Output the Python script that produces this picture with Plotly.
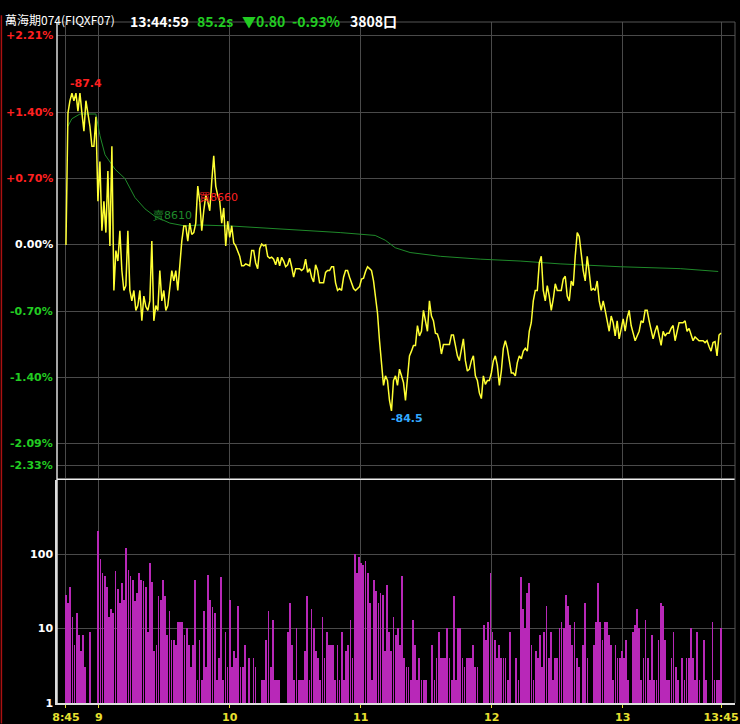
import plotly.graph_objects as go
import numpy as np

price_pct = [0,1.39,1.52,1.60,1.52,1.60,1.41,1.60,1.39,1.20,1.52,1.39,1.25,1.04,1.04,1.35,0.46,0.88,0.15,0.46,
0.13,0.78,-0.01,1.04,-0.48,-0.06,-0.17,0.15,-0.27,-0.48,-0.43,0.15,-0.48,-0.59,-0.48,-0.69,-0.64,-0.48,-0.80,-0.54,
-0.65,-0.69,-0.59,0.04,-0.80,-0.64,-0.69,-0.27,-0.59,-0.48,-0.69,-0.64,-0.48,-0.27,-0.38,-0.27,-0.48,-0.22,0.04,0.20,
0.20,0.04,0.23,0.11,0.13,0.23,0.62,0.46,0.15,0.36,0.52,0.46,0.36,0.67,0.94,0.62,0.52,0.46,0.23,0.39,
-0.01,0.25,0.08,0.20,0.02,-0.01,-0.06,-0.12,-0.22,-0.22,-0.20,-0.21,-0.22,-0.06,-0.06,-0.19,-0.25,-0.04,0.01,-0.01,
0.0,-0.12,-0.14,-0.13,-0.15,-0.21,-0.13,-0.22,-0.13,-0.17,-0.23,-0.21,-0.14,-0.23,-0.34,-0.25,-0.25,-0.25,-0.27,-0.25,
-0.15,-0.29,-0.25,-0.34,-0.39,-0.21,-0.27,-0.40,-0.40,-0.40,-0.29,-0.27,-0.27,-0.23,-0.23,-0.40,-0.48,-0.46,-0.48,-0.34,
-0.27,-0.27,-0.34,-0.39,-0.46,-0.48,-0.46,-0.44,-0.36,-0.35,-0.28,-0.23,-0.25,-0.27,-0.38,-0.57,-0.72,-1.01,-1.22,-1.48,
-1.38,-1.43,-1.64,-1.75,-1.43,-1.38,-1.48,-1.31,-1.38,-1.45,-1.64,-1.43,-1.17,-1.12,-1.06,-1.06,-0.85,-0.96,-0.91,-0.69,
-0.80,-0.91,-0.59,-0.75,-0.80,-0.93,-0.94,-1.01,-1.15,-1.05,-1.05,-1.05,-1.05,-0.95,-0.95,-1.06,-1.17,-1.22,-1.12,-0.99,
-1.22,-1.33,-1.31,-1.22,-1.17,-1.38,-1.43,-1.56,-1.62,-1.38,-1.47,-1.43,-1.43,-1.35,-1.22,-1.17,-1.27,-1.48,-1.33,-1.09,
-1.01,-1.09,-1.22,-1.35,-1.35,-1.38,-1.24,-1.17,-1.20,-1.12,-1.09,-1.12,-0.91,-0.82,-0.59,-0.48,-0.48,-0.19,-0.12,-0.48,
-0.59,-0.43,-0.54,-0.69,-0.57,-0.41,-0.48,-0.48,-0.48,-0.36,-0.33,-0.54,-0.59,-0.38,-0.43,-0.12,0.13,0.09,-0.12,-0.27,
-0.38,-0.12,-0.29,-0.48,-0.46,-0.48,-0.38,-0.59,-0.69,-0.59,-0.69,-0.82,-0.91,-0.75,-0.82,-0.96,-0.80,-0.99,-0.88,-0.78,
-0.91,-0.77,-0.69,-0.85,-0.93,-1.01,-0.96,-0.91,-0.80,-0.82,-0.69,-0.69,-0.80,-0.88,-0.99,-0.91,-0.85,-0.96,-1.06,-0.91,
-0.96,-0.93,-0.93,-0.88,-0.85,-1.01,-0.91,-0.82,-0.82,-0.82,-0.80,-0.91,-0.88,-0.96,-1.01,-0.97,-0.99,-1.01,-1.01,-1.01,
-1.03,-1.01,-1.07,-1.12,-1.03,-1.02,-1.17,-0.95,-0.93]

avg_min = [0.9,2.7,6.4,13.7,15.6,17.9,22.4,27.0,31.6,36.2,40.8,47.6,54.5,61.4,75.2,88.9,107.2,125.6,141.6,146.2,150.8,157.6,171.4,189.7,208.0,226.3,253.8,281.3,298.7]
avg_pct = [1.25,1.33,1.38,1.38,1.15,0.95,0.80,0.70,0.50,0.38,0.30,0.23,0.20,0.21,0.20,0.18,0.16,0.13,0.10,0.05,-0.03,-0.08,-0.12,-0.15,-0.17,-0.20,-0.23,-0.25,-0.28]

volume = [28,22,36,14,6,16,8,5,8,3,0,9,0,0,0,200,85,55,50,36,14,18,16,58,34,22,40,24,120,60,50,45,23,30,55,44,43,36,9,75,
42,5,6,27,24,45,27,8,17,7,7,6,12,12,12,8,10,6,3,6,45,2,7,2,17,3,52,24,19,16,2,4,48,2,9,3,24,3,5,4,20,3,3,6,0,4,0,4,3,0,0,2,2,7,17,3,13,2,2,
2,0,0,0,9,22,6,2,10,2,2,2,5,27,2,18,10,5,4,2,14,4,9,6,6,6,2,6,2,9,2,5,6,13,4,100,55,90,75,70,80,55,22,2,45,32,22,30,28,5,
38,9,5,14,8,10,6,50,4,3,3,2,13,6,2,4,2,2,2,0,0,6,2,4,9,4,4,4,10,4,2,27,2,10,10,4,3,4,4,4,6,3,3,0,0,11,7,12,55,9,7,4,6,4,4,4,2,9,0,0,
4,2,48,18,10,30,40,6,2,5,4,8,3,9,20,4,9,2,4,4,10,12,10,28,20,11,6,12,4,3,0,6,22,4,0,0,6,12,40,12,7,12,12,8,6,2,6,4,4,5,4,7,2,0,
9,11,18,10,2,4,13,4,2,8,2,2,7,22,20,7,2,2,4,9,3,2,0,4,2,4,4,10,4,2,9,2,0,7,2,0,0,12,2,2,2,10]

x_ticks = [0, 15, 75, 135, 195, 255, 300]
x_labels = ["8:45", "9", "10", "11", "12", "13", "13:45"]
y_ticks = [2.21, 1.40, 0.70, 0.00, -0.70, -1.40, -2.09, -2.33]
y_labels = ["+2.21%", "+1.40%", "+0.70%", "0.00%", "-0.70%", "-1.40%", "-2.09%", "-2.33%"]
v_ticks = [1, 10, 100]

price_min = np.linspace(0, 300, len(price_pct))
vol_min = np.linspace(0, 300, len(volume))
vol_plot = [v if v > 0 else None for v in volume]

FONT = "DejaVu Sans"
fig = go.Figure()
fig.add_trace(go.Scatter(x=avg_min, y=avg_pct, mode="lines", line=dict(color="#1f8a2a", width=1), xaxis="x", yaxis="y"))
fig.add_trace(go.Scatter(x=price_min, y=price_pct, mode="lines", line=dict(color="#ffff33", width=1.5), xaxis="x", yaxis="y"))
fig.add_trace(go.Bar(x=vol_min, y=vol_plot, marker=dict(color="#b828b8", line=dict(width=0)), width=0.35, xaxis="x2", yaxis="y2"))

grid = "#4a4a4a"
fig.update_layout(
    width=740, height=724, margin=dict(l=57, r=5, t=22, b=21, autoexpand=False),
    paper_bgcolor="black", plot_bgcolor="black", showlegend=False, bargap=0,
    xaxis=dict(domain=[0, 1], range=[-4.1, 306.4], anchor="y", tickvals=x_ticks, showticklabels=False, automargin=False,
               showgrid=True, gridcolor=grid, zeroline=False, showline=False),
    yaxis=dict(domain=[0.330, 1], range=[-2.46, 2.35], tickvals=y_ticks, showticklabels=False, automargin=False,
               showgrid=True, gridcolor=grid, zeroline=False),
    xaxis2=dict(domain=[0, 1], range=[-4.1, 306.4], anchor="y2", tickvals=x_ticks, ticktext=[f"<b>{t}</b>" for t in x_labels],
                tickfont=dict(color="#e8e030", size=11, family=FONT), ticks="outside", ticklen=3, tickcolor="#e8e030",
                automargin=False, showgrid=True, gridcolor=grid, zeroline=False, showline=True, linecolor="#dddddd", linewidth=1.5),
    yaxis2=dict(domain=[0, 0.327], type="log", range=[0, 2.99], tickvals=v_ticks, ticktext=["<b>1</b>", "<b>10</b>", "<b>100</b>"],
                tickfont=dict(color="white", size=11, family=FONT), showgrid=True, gridcolor=grid, zeroline=False,
                automargin=False, showline=True, linecolor="#dddddd", linewidth=1.5, ticks=""),
)
colors = ["#ff2020"]*3 + ["white"] + ["#22cc22"]*4
for v, t, c in zip(y_ticks, y_labels, colors):
    fig.add_annotation(x=-0.003, xref="paper", y=v, yref="y", text=f"<b>{t}</b>", showarrow=False, xanchor="right",
                       font=dict(color=c, size=11, family=FONT))
# frame lines
fig.add_shape(type="line", xref="paper", yref="paper", x0=0, x1=0, y0=0, y1=1, line=dict(color="#dddddd", width=1.5))
fig.add_shape(type="line", xref="paper", yref="paper", x0=0, x1=1, y0=0.3285, y1=0.3285, line=dict(color="#eeeeee", width=1.5))
fig.add_shape(type="line", xref="paper", yref="paper", x0=0, x1=1, y0=1, y1=1, line=dict(color="#555555", width=1))
fig.add_shape(type="line", xref="paper", yref="paper", x0=1, x1=1, y0=0, y1=1, line=dict(color="#555555", width=1))
fig.add_shape(type="line", xref="paper", yref="paper", x0=-0.082, x1=-0.082, y0=-0.03, y1=1.01, line=dict(color="#aa1111", width=1.5))
# labels on chart
fig.add_annotation(x=1, y=1.70, xref="x", yref="y", text="<b>-87.4</b>", showarrow=False, font=dict(color="#ff2020", size=11, family=FONT), xanchor="left")
fig.add_annotation(x=148, y=-1.83, xref="x", yref="y", text="<b>-84.5</b>", showarrow=False, font=dict(color="#33aaff", size=11, family=FONT), xanchor="left")
fig.add_annotation(x=39, y=0.31, xref="x", yref="y", text="賣8610", showarrow=False, font=dict(color="#1f8a2a", size=11, family=FONT), xanchor="left")
fig.add_annotation(x=60, y=0.50, xref="x", yref="y", text="買8660", showarrow=False, font=dict(color="#ff2020", size=11, family=FONT), xanchor="left")
# header
hdr = [(3, "萬海期074(FIQXF07)", "white", 12, False), (128, "13:44:59", "white", 14, True), (195, "85.2s", "#22cc22", 14, True),
       (240, "▼0.80", "#22cc22", 14, True), (290, "-0.93%", "#22cc22", 14, True), (348, "3808口", "white", 14, True)]
for px, t, c, s, b in hdr:
    fig.add_annotation(x=(px - 57) / 678, xref="paper", y=1.0 + 13/681, yref="paper", text=(f"<b>{t}</b>" if b else t),
                       showarrow=False, xanchor="left", font=dict(color=c, size=s, family="Noto Sans CJK TC, " + FONT))
fig.write_html("out.html", config={"displayModeBar": False})
with open("out.html", encoding="utf-8") as f:
    html = f.read()
html = html.replace("<head>", "<head><style>html,body{margin:0;padding:0;background:black;overflow:hidden}</style>", 1)
with open("out.html", "w", encoding="utf-8") as f:
    f.write(html)
